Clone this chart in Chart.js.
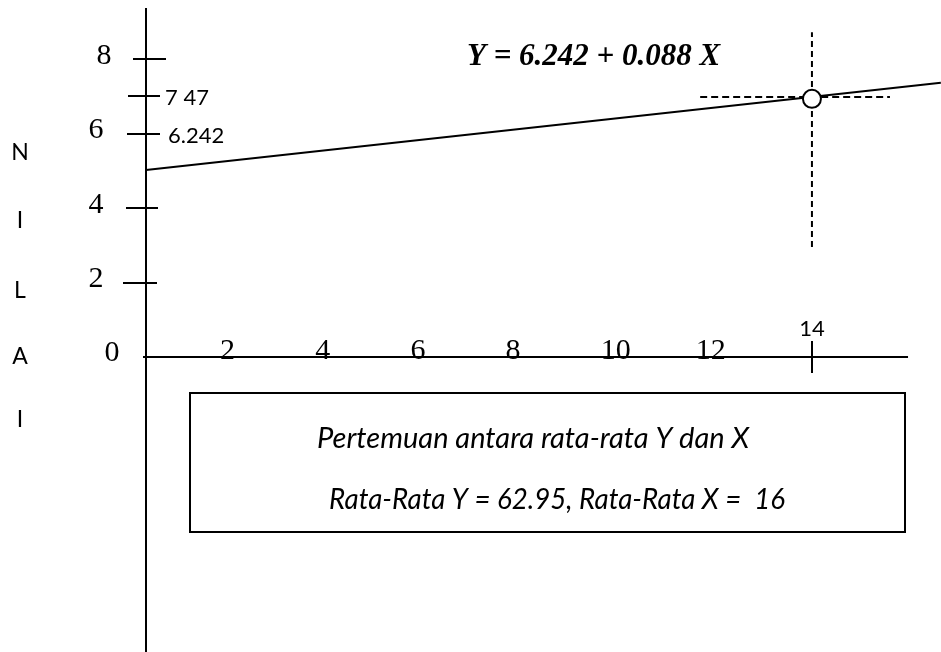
<!DOCTYPE html>
<html><head><meta charset="utf-8">
<script src="https://cdn.jsdelivr.net/npm/chart.js@4.4.0/dist/chart.umd.min.js"></script>
<style>html,body{margin:0;padding:0;background:#fff}#wrap{width:941px;height:652px;position:relative}</style>
</head><body><div id="wrap"><canvas id="c"></canvas></div>
<script>
// ---- data ----
const equationText = 'Y = 6.242 + 0.088 X';
const regressionX = [0, 16.71];
const regressionY = [5.02, 7.36];
const meanX = [14];
const meanY = [6.93];
const yTickValues = [8, 6, 4, 2];
const yTickLabels = ['8', '6', '4', '2'];
const yZeroLabel = '0';
const yMarkValues = [7.0, 6.0];
const yMarkLabels = ['7 47', '6.242'];
const xTickValues = [2, 4, 6, 8, 10, 12];
const xTickLabels = ['2', '4', '6', '8', '10', '12'];
const xMarkValue = 14;
const xMarkLabel = '14';
const guideVerticalY = [2.95, 8.72];
const guideHorizontalX = [11.65, 15.64];
const guideHorizontalY = 6.98;
const axisTitleLetters = ['N', 'I', 'L', 'A', 'I'];
const boxLines = ['Pertemuan antara rata-rata Y dan X', 'Rata-Rata Y = 62.95, Rata-Rata X =  16'];
const xRange = [-3.069, 16.713];
const yRange = [-7.919, 9.584];
const yAxisTop = 9.37;
const xAxisRight = 16.02;

const toPts = (xs, ys) => xs.map((x, i) => ({x, y: ys[i]}));

const drawPlugin = {
  id: 'draw',
  beforeDatasetsDraw(chart) {
    const {ctx, scales: {x, y}} = chart;
    const X = v => x.getPixelForValue(v), Y = v => y.getPixelForValue(v);
    const x0 = Math.round(X(0)), y0 = Math.round(Y(0));
    ctx.save();
    ctx.strokeStyle = '#000'; ctx.fillStyle = '#000'; ctx.lineWidth = 2;
    // axes
    ctx.beginPath();
    ctx.moveTo(x0, Y(yAxisTop)); ctx.lineTo(x0, chart.height);
    ctx.moveTo(x0 - 3, y0); ctx.lineTo(X(xAxisRight), y0);
    ctx.stroke();
    // y tick marks (hand-drawn spans)
    const spans = {8: [-13, 20], 7: [-18, 14], 6: [-19, 14], 4: [-20, 12], 2: [-23, 11]};
    ctx.beginPath();
    yTickValues.concat([yMarkValues[0]]).forEach(v => {
      const p = Math.round(Y(v)); const s = spans[Math.round(v)];
      ctx.moveTo(x0 + s[0], p); ctx.lineTo(x0 + s[1], p);
    });
    const xm = Math.round(X(xMarkValue));
    ctx.moveTo(xm, y0 - 16); ctx.lineTo(xm, y0 + 16);
    ctx.stroke();
    // serif numeric labels
    ctx.font = '30px "Liberation Serif", "Times New Roman", serif';
    ctx.textAlign = 'center'; ctx.textBaseline = 'middle';
    yTickValues.forEach((v, i) => {
      ctx.fillText(yTickLabels[i], x0 - (i === 0 ? 42 : 50), Y(v) - 3);
    });
    ctx.fillText(yZeroLabel, x0 - 34, y0 - 4);
    ctx.textAlign = 'left';
    xTickValues.forEach((v, i) => ctx.fillText(xTickLabels[i], X(v) - 21, y0 - 6));
    // sans mark labels
    ctx.font = '22px Lato, "Open Sans", sans-serif';
    ctx.fillText(yMarkLabels[0], x0 + 19, Y(yMarkValues[0]) + 2);
    ctx.fillText(yMarkLabels[1], x0 + 22, Y(yMarkValues[1]) + 2);
    ctx.textAlign = 'center';
    ctx.fillText(xMarkLabel, xm, y0 - 28);
    // vertical title letters
    ctx.font = '23px Lato, "Open Sans", sans-serif';
    const letterY = [153, 221, 291, 357, 420];
    axisTitleLetters.forEach((ch, i) => ctx.fillText(ch, 20, letterY[i]));
    // equation
    ctx.font = 'italic bold 31px "Liberation Serif", "Times New Roman", serif';
    ctx.textAlign = 'left';
    ctx.fillText(equationText, 467, 57, 256);
    // box
    ctx.lineWidth = 2;
    ctx.strokeRect(190, 393, 715, 139);
    ctx.font = 'italic 29px Lato, "Open Sans", sans-serif';
    ctx.textAlign = 'center';
    ctx.fillText(boxLines[0], 533, 439, 441);
    ctx.fillText(boxLines[1], 557, 500, 456);
    ctx.restore();
  }
};

new Chart(document.getElementById('c'), {
  type: 'scatter',
  data: {
    datasets: [
      { data: toPts(meanX, meanY), pointRadius: 9, pointBackgroundColor: '#fff', pointBorderColor: '#000', pointBorderWidth: 2, showLine: false },
      { data: toPts(regressionX, regressionY), showLine: true, borderColor: '#000', borderWidth: 2, pointRadius: 0 },
      { data: toPts([meanX[0], meanX[0]], guideVerticalY), showLine: true, borderColor: '#000', borderWidth: 2, borderDash: [6, 4], pointRadius: 0 },
      { data: toPts(guideHorizontalX, [guideHorizontalY, guideHorizontalY]), showLine: true, borderColor: '#000', borderWidth: 2, borderDash: [7, 4], pointRadius: 0 }
    ]
  },
  options: {
    responsive: true, maintainAspectRatio: false, animation: false,
    layout: { padding: 0, autoPadding: false },
    plugins: { legend: { display: false }, tooltip: { enabled: false } },
    scales: {
      x: { type: 'linear', min: xRange[0], max: xRange[1], display: false },
      y: { type: 'linear', min: yRange[0], max: yRange[1], display: false }
    }
  },
  plugins: [drawPlugin]
});
</script></body></html>
